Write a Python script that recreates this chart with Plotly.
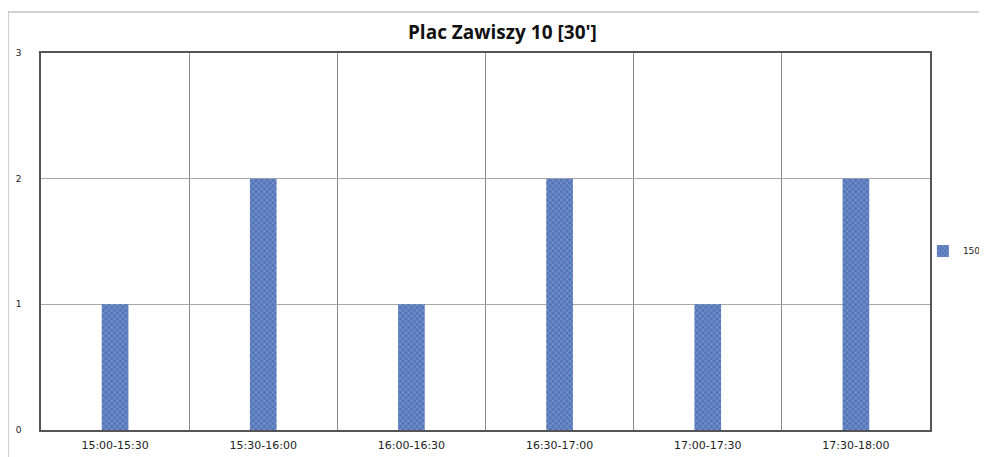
import plotly.graph_objects as go

categories = ["15:00-15:30", "15:30-16:00", "16:00-16:30",
              "16:30-17:00", "17:00-17:30", "17:30-18:00"]
values_150 = [1, 2, 1, 2, 1, 2]
series_name = "150"
title_text = "Plac Zawiszy 10 [30']"

fig = go.Figure()

fig.add_trace(
    go.Bar(
        x=categories,
        y=values_150,
        name=series_name,
        width=0.18,
        marker=dict(
            color="#5576b8",
            line=dict(width=0),
            pattern=dict(shape="x", fgcolor="#a8bde8", size=4, solidity=0.35),
        ),
    )
)

# outer chart frame (Excel chart area)
fig.add_shape(
    type="rect", xref="paper", yref="paper",
    x0=-0.0371, x1=1.2, y0=-0.3, y1=1.1088,
    line=dict(color="#c4c4c4", width=1.5), layer="below",
)

# page body has an 8px margin, so the figure is offset by 8px
fig.update_layout(
    width=979,
    height=449,
    margin=dict(l=33, r=57, t=45, b=27, autoexpand=False),
    paper_bgcolor="white",
    plot_bgcolor="white",
    title=dict(
        text="<b>" + title_text + "</b>",
        x=0.505, xanchor="center", y=0.946, yanchor="middle",
        font=dict(family="Open Sans", size=19, color="#111"),
    ),
    showlegend=True,
    legend=dict(
        x=0.992, y=0.475, xanchor="left", yanchor="middle",
        font=dict(family="DejaVu Sans", size=9, color="#222"),
        itemwidth=30, bgcolor="rgba(0,0,0,0)",
    ),
    bargap=0.82,
)

fig.update_xaxes(
    type="category",
    range=[-0.5, 5.5],
    tickson="boundaries",
    showgrid=True,
    gridcolor="#8a8a8a",
    gridwidth=1,
    showline=True,
    linecolor="#555",
    linewidth=1.5,
    mirror=True,
    ticks="",
    ticklabelstandoff=4,
    tickfont=dict(family="DejaVu Sans", size=11, color="#222"),
)

fig.update_yaxes(
    range=[0, 3],
    dtick=1,
    showgrid=True,
    gridcolor="#a8a8a8",
    gridwidth=1,
    showline=True,
    linecolor="#555",
    linewidth=1.5,
    mirror=True,
    zeroline=False,
    ticks="",
    ticklabelstandoff=16,
    tickfont=dict(family="DejaVu Sans", size=9, color="#222"),
)

fig.write_html("out.html")
